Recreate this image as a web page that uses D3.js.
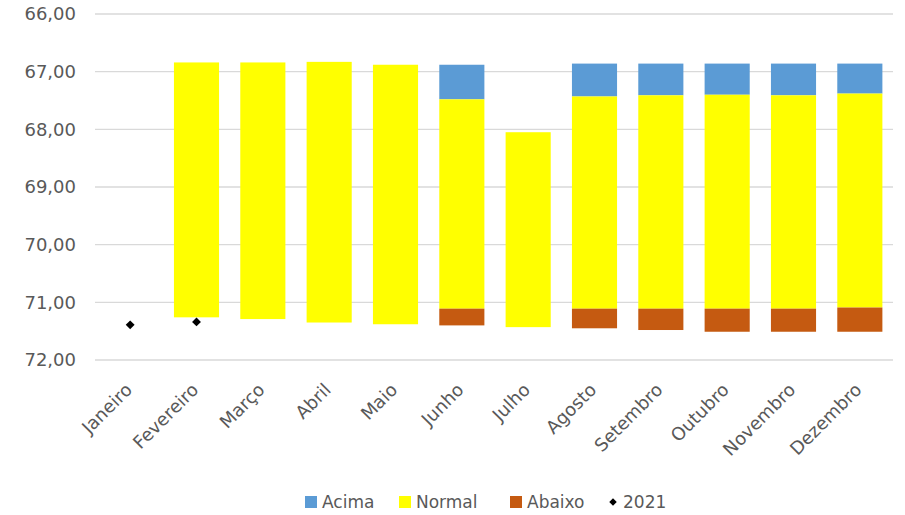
<!DOCTYPE html>
<html>
<head>
<meta charset="utf-8">
<script src="https://cdn.jsdelivr.net/npm/d3@7"></script>
<style>
  html, body { margin: 0; padding: 0; background: #fff; }
  svg { display: block; font-family: "DejaVu Sans", sans-serif; }
</style>
</head>
<body>
<svg id="chart" width="905" height="515"></svg>
<script>
const meses = ["Janeiro","Fevereiro","Março","Abril","Maio","Junho","Julho","Agosto","Setembro","Outubro","Novembro","Dezembro"];
// Limites das faixas (eixo invertido)
const acimaSup   = [null, null, null, null, null, 66.88, null, 66.86, 66.86, 66.86, 66.86, 66.86];
const normalSup  = [null, 66.84, 66.84, 66.83, 66.88, 67.48, 68.05, 67.43, 67.41, 67.40, 67.41, 67.38];
const normalInf  = [null, 71.26, 71.29, 71.35, 71.38, 71.11, 71.43, 71.11, 71.11, 71.11, 71.11, 71.09];
const abaixoInf  = [null, null, null, null, null, 71.40, null, 71.45, 71.48, 71.51, 71.51, 71.51];
const valores2021 = [71.39, 71.34, null, null, null, null, null, null, null, null, null, null];
const yTicks = [66, 67, 68, 69, 70, 71, 72];
const legendItems = ["Acima", "Normal", "Abaixo", "2021"];

const colors = { Acima: "#5B9BD5", Normal: "#FFFF00", Abaixo: "#C55A11", "2021": "#000000" };
const textColor = "#595959";

const svg = d3.select("#chart");
const x = d3.scaleBand().domain(meses).range([97, 893]).paddingInner(0.32).paddingOuter(0.16);
const y = d3.scaleLinear().domain([66, 72]).range([14, 360]);

// gridlines
svg.append("g").selectAll("line").data(yTicks).join("line")
  .attr("x1", 95).attr("x2", 893)
  .attr("y1", d => y(d)).attr("y2", d => y(d))
  .attr("stroke", "#D9D9D9").attr("stroke-width", 1.3);

// y axis labels
const yAxis = d3.axisLeft(y).tickValues(yTicks).tickSize(0).tickPadding(0)
  .tickFormat(d => d3.format(".2f")(d).replace(".", ","));
const yg = svg.append("g").attr("transform", "translate(76,0)").call(yAxis);
yg.select(".domain").remove();
yg.selectAll("text").attr("fill", textColor).style("font-size", "18px").style("font-family", "DejaVu Sans");

// bars
function segs(top, bottom, key) {
  return meses.map((m, i) => ({ m, t: top[i], b: bottom[i], key }))
    .filter(d => d.t != null && d.b != null);
}
const allSegs = [
  ...segs(acimaSup, normalSup.map((v, i) => acimaSup[i] != null ? v : null), "Acima"),
  ...segs(normalSup, normalInf, "Normal"),
  ...segs(normalInf.map((v, i) => abaixoInf[i] != null ? v : null), abaixoInf, "Abaixo")
];
svg.append("g").selectAll("rect").data(allSegs).join("rect")
  .attr("x", d => x(d.m)).attr("width", x.bandwidth())
  .attr("y", d => y(d.t)).attr("height", d => y(d.b) - y(d.t))
  .attr("fill", d => colors[d.key]);

// 2021 points
const sym = d3.symbol().type(d3.symbolDiamond2).size(50);
svg.append("g").selectAll("path").data(meses.map((m, i) => ({ m, v: valores2021[i] })).filter(d => d.v != null))
  .join("path")
  .attr("d", sym)
  .attr("transform", d => `translate(${x(d.m) + x.bandwidth() / 2},${y(d.v)})`)
  .attr("fill", "#000");

// x labels
svg.append("g").selectAll("text").data(meses).join("text")
  .attr("transform", d => `translate(${x(d) + x.bandwidth() / 2 + 3},391) rotate(-45)`)
  .attr("text-anchor", "end")
  .attr("fill", textColor)
  .style("font-size", "18px")
  .text(d => d);

// legend
const legX = [305, 399, 510, 608];
const lg = svg.append("g");
legendItems.forEach((k, i) => {
  if (k === "2021") {
    lg.append("path").attr("d", d3.symbol().type(d3.symbolDiamond2).size(36)())
      .attr("transform", `translate(${legX[i] + 5},502)`).attr("fill", "#000");
  } else {
    lg.append("rect").attr("x", legX[i]).attr("y", 496).attr("width", 12).attr("height", 12)
      .attr("fill", colors[k]);
  }
  lg.append("text").attr("x", legX[i] + (k === "2021" ? 15 : 17)).attr("y", 508)
    .attr("fill", textColor).style("font-size", "17px").text(k);
});
</script>
</body>
</html>
